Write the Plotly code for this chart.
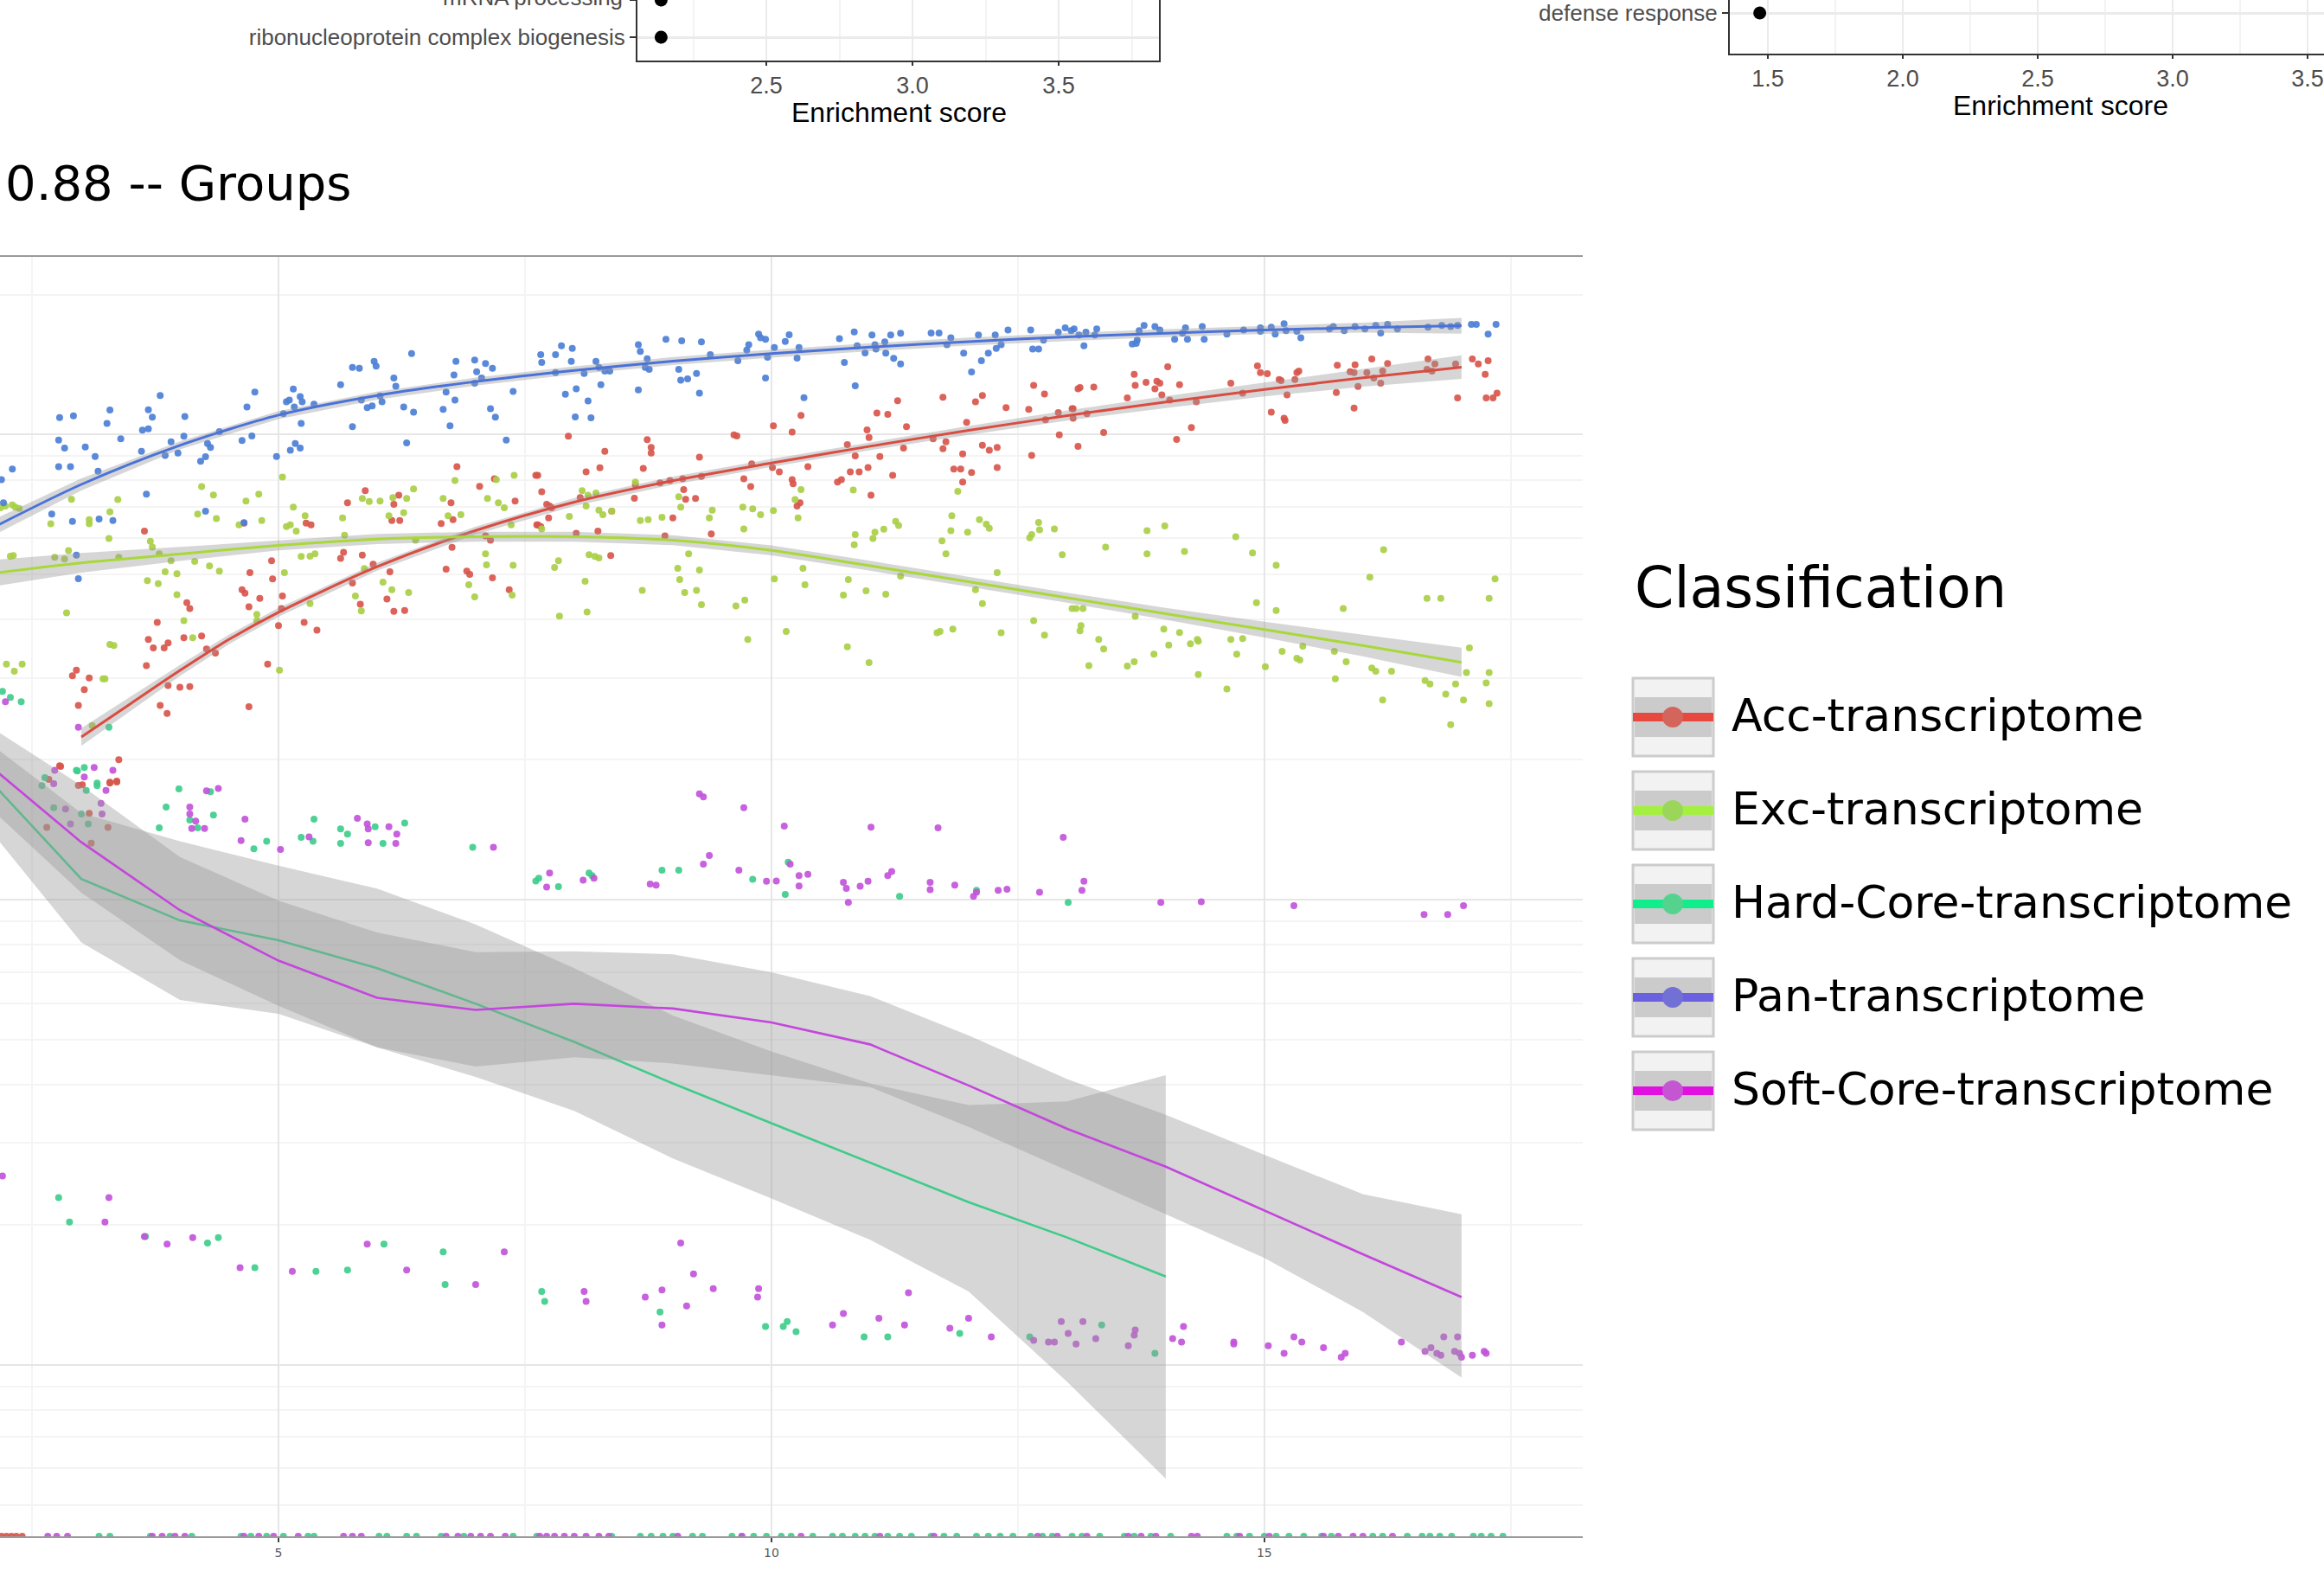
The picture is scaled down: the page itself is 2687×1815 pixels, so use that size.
import plotly.graph_objects as go

W, H = 2687, 1815

# ---------------- data: main panel ----------------
names = ["Acc-transcriptome", "Exc-transcriptome", "Hard-Core-transcriptome",
         "Pan-transcriptome", "Soft-Core-transcriptome"]

pan_pts = [
 (2.19,8000),(2.30,8430),(2.21,7140),(2.77,9730),(2.78,10885),(2.92,10975),(2.83,9360),(2.77,8530),(2.89,8530),
 (3.04,9410),(3.14,8975),(3.17,8345),(3.29,11290),(3.26,10575),(3.40,9800),(3.61,9210),(3.62,10220),(3.68,10290),
 (3.68,11310),(3.72,10900),(3.80,12130),(3.91,9650),(3.85,9020),(3.98,9130),(4.04,9920),(4.05,10940),(4.21,8765),
 (4.26,8960),(4.31,9390),(4.28,9570),(4.40,10150),(4.63,9710),(4.68,11470),(4.73,9935),(4.76,12340),(4.98,8975),
 (5.05,11090),(5.08,11770),(5.11,11870),(5.15,12525),(5.16,11470),(5.22,12070),(5.24,11770),(5.23,10575),(5.17,9570),
 (5.12,9255),(5.22,9360),(5.36,11630),(5.63,12800),(5.75,13940),(5.82,13890),(5.75,10400),(5.84,11870),(5.90,11430),
 (5.95,11530),(5.97,14370),(5.99,14030),(6.03,12110),(6.05,11770),(6.17,13240),(6.19,12710),(6.27,11470),(6.30,9600),
 (6.35,14935),(6.37,11180),(6.67,11330),(6.70,12340),(6.74,10450),(6.78,13430),(6.79,11870),(6.80,14370),(6.99,14460),
 (7.01,13650),(7.10,14220),(7.17,13890),(7.06,13240),(6.99,12900),(7.15,11370),(7.20,10900),(7.31,9730),(7.38,12380),
 (2.70,6750),(2.91,6510),(3.18,6585),(3.32,6540),(3.66,7450),(4.26,6846),(2.95,5510),(2.97,4900),(4.65,6465),
 (7.66,14860),(7.67,14300),(7.81,14860),(7.81,13590),(7.87,15520),(7.98,15320),(7.97,14370),(7.91,12210),(8.02,12550),
 (8.01,10920),(8.10,13540),(8.14,11810),(8.17,10865),(8.22,14370),(8.25,13940),(8.27,12800),(8.31,13700),(8.36,13700),
 (8.65,12480),(8.65,15600),(8.67,15100),(8.74,14560),(8.72,13940),(8.76,13820),(8.93,16030),(9.06,13820),(9.09,15910),
 (9.08,13090),(9.15,13180),(9.24,13540),(9.27,12280),(9.29,15830),(9.38,14860),(9.66,14415),(9.75,15200),(9.77,15600),
 (9.87,16450),(9.89,16150),(9.94,16030),(9.94,13240),(10.03,15390),(9.96,14660),(10.14,15850),(10.18,16400),(10.28,15390),
 (10.26,14610),(10.33,12010),(10.69,16080),(10.74,14300),(10.84,16620),(10.85,12730),(10.87,15520),(10.95,14980),
 (11.02,16370),(11.05,15600),(11.06,15270),(11.15,15830),(11.16,14960),(11.21,16370),(11.24,14585),(11.31,14180),
 (11.31,16510),(11.62,16540),(11.70,16540),(11.82,16150),(11.78,15600),(11.95,14960),(12.03,13640),(12.10,16370),
 (12.13,14415),(12.20,14960),(12.27,16370),(12.28,15320),(12.33,15600),(12.40,16790),(12.63,16790),(12.65,15270),
 (12.71,15270),(12.76,15960),(12.91,16600),(12.98,16960),(13.04,16730),
 (13.07,16880),(13.12,16370),(13.19,16600),(13.30,16880),(13.28,16370),(13.17,15520),(13.66,15650),(13.70,15700),
 (13.71,15960),(13.73,16730),(13.78,17160),(13.89,17080),(13.94,16790),(14.09,16030),(14.20,16960),(14.22,16030),
 (14.17,16510),(14.37,17080),(14.39,16030),(14.62,16450),(14.79,16790),(14.96,16960),(14.96,16680),(15.07,17020),
 (15.11,16450),(15.20,17310),(15.22,16730),(15.33,16680),(15.37,16150),(15.66,16880),(15.70,17080),(15.81,16730),
 (15.92,17080),(16.02,16880),(16.13,17160),(16.18,16540),(16.25,17250),(16.35,16880),(16.66,17020),(16.80,17160),
 (16.89,17080),(16.96,17160),(17.10,17250),(17.15,17250),(17.27,16450),(17.35,17250),
]

acc_pts = [
 (3.64,6206),(3.77,3950),(3.68,3630),(3.73,3479),(3.84,3479),(3.88,3568),(3.66,3186),(3.80,2619),(3.87,2515),
 (3.88,2888),(4.00,2864),(4.10,2874),(4.07,4350),(4.10,4227),(4.04,3660),(4.22,3690),(4.27,3461),(4.36,3392),
 (4.65,6450),(4.71,5048),(4.63,4640),(4.66,4560),(4.70,4263),(4.81,4448),(4.93,5357),(4.94,4897),(5.04,4497),
 (5.03,4227),(5.00,3884),(4.89,3213),(4.70,2601),(5.26,3950),(5.39,3800),(5.28,6450),(5.33,6397),(5.70,7140),
 (5.88,7577),(5.66,5588),(5.63,5420),(5.85,5510),(5.75,4800),(5.83,4320),(5.96,5267),(6.13,5074),(6.10,4432),
 (6.17,4170),(6.28,4190),(6.15,6540),(6.23,6540),(6.17,7081),(6.22,7410),(6.70,5135),(6.65,6440),(6.75,7140),
 (6.77,6565),(6.76,5723),(6.81,8530),(6.91,5090),(6.94,5006),(7.04,7745),(7.10,6060),(7.15,5930),(7.17,4921),
 (7.34,4640),(7.40,7200),(7.61,8175),(7.62,6397),(7.19,8040),
 (2.95,3116),(2.91,3030),(3.08,3000),(3.03,2830),(2.97,2619),(2.78,1942),(3.38,2000),(3.29,1783),(3.36,1792),(3.01,1768),
 (2.79,1936),(2.97,1762),(3.29,1791),(3.36,1800),(3.10,1324),(3.27,1432),(3.08,1535),(2.65,1432),(2.67,1815),
 (7.63,8175),(7.67,7540),(7.72,7081),(7.75,7020),(7.77,6960),(7.74,6618),(7.63,6397),(7.66,6345),(7.94,9920),
 (8.02,6134),(8.06,7325),(8.12,8316),(8.26,8490),(8.31,9210),(8.24,6206),(8.37,5495),(8.38,6846),(8.62,7800),
 (8.61,7300),(8.70,8460),(8.74,9750),(8.78,9390),(8.78,9130),(8.87,7878),(8.92,6060),(8.97,7972),(9.00,6618),
 (9.10,8040),(9.11,7615),(9.13,7260),(9.23,7290),(9.27,8945),(9.29,8135),(9.39,6114),(9.62,9985),(9.65,9935),
 (9.72,8040),(9.79,7733),(9.80,8650),(10.02,10450),(10.01,8500),(10.08,8316),(10.21,10130),(10.21,8000),(10.22,7838),
 (10.26,7020),(10.29,7140),(10.30,10995),(10.37,8530),(10.67,7905),(10.71,8000),(10.77,9520),(10.80,8316),(10.85,9005),
 (10.89,8316),(10.97,10240),(10.99,9855),(10.98,8500),(11.01,7410),(11.07,11130),(11.10,8975),(11.18,11055),
 (11.23,8175),(11.28,11830),(11.34,9360),(11.37,10400),(11.64,9800),(11.74,12030),(11.74,9330),(11.77,9650),
 (11.85,8430),(11.92,8430),(11.94,9085),(11.94,7905),(11.98,10630),(12.03,8290),(12.07,11770),(12.14,12130),
 (12.14,9485),(12.21,9255),(12.29,9390),(12.29,8500),(12.38,11430),(12.61,11330),(12.64,9020),(12.66,12760),
 (12.77,12230),(12.78,10760),(12.91,11150),(12.92,9985),(13.05,11370),
 (13.06,11370),(13.11,12550),(13.13,12630),(13.06,10850),(13.20,11090),(13.27,12650),(13.37,10100),(13.11,9440),
 (13.61,11990),(13.68,13470),(13.69,12760),(13.80,12950),(13.89,12550),(13.91,13020),(13.96,12170),(13.94,12900),
 (14.04,11870),(14.02,13990),(14.11,9770),(14.14,12800),(14.26,10360),(14.31,11770),(14.66,12900),(14.78,12280),
 (14.93,14050),(14.96,13590),(15.03,13520),(15.07,11180),(15.15,13130),(15.17,13060),(15.20,10850),(15.21,10725),
 (15.23,12170),(15.31,13130),(15.33,13590),(15.35,13700),(15.73,12320),(15.74,14100),(15.91,11410),(15.87,13650),
 (15.91,13590),(15.92,14130),(15.95,12690),(16.04,13590),(16.09,14540),(16.11,13240),(16.18,12900),(16.20,13700),
 (16.25,14220),(16.66,14540),(16.65,13820),(16.70,13700),(16.73,14180),(16.94,14180),(16.96,11990),(17.11,14540),
 (17.17,14180),(17.24,13470),(17.25,11990),(17.27,14415),(17.32,11990),(17.36,12280),
]

exc_pts = [
 (2.18,6960),(2.23,7020),(2.30,7057),(2.33,6985),(2.37,6937),(2.31,5495),(2.28,5477),(2.69,6430),(2.73,5450),
 (2.83,5402),(2.87,5635),(2.90,7260),(2.85,4137),(3.08,6565),(3.08,6430),(3.28,5979),(3.29,6822),(3.37,7250),
 (3.38,5450),(3.29,3540),(3.33,3520),(3.22,2987),(3.24,2987),(2.24,3213),(2.32,3100),(2.40,3213),(3.11,2370),
 (3.67,4855),(3.70,5900),(3.72,5733),(3.79,5541),(3.85,5074),(3.78,4780),(3.91,5357),(3.97,5023),(3.97,4530),
 (4.04,3984),(4.13,3660),(4.15,5340),(4.18,6750),(4.22,7733),(4.34,7420),(4.37,6600),(4.30,5222),(4.40,5090),
 (4.67,7200),(4.60,6397),(4.80,7450),(4.83,6540),(4.78,4110),(5.01,3116),(5.04,8108),(5.15,6985),(5.08,6345),
 (5.12,6397),(5.18,6206),(5.27,6690),(5.06,5048),(5.23,5470),(5.32,5477),(5.37,5541),(5.65,6618),(5.67,6080),
 (5.85,7290),(5.92,7180),(6.03,7200),(5.87,5152),(5.78,4497),(5.84,4177),(6.06,4820),(6.15,4640),(6.32,4575),
 (6.16,7325),(6.30,7290),(6.27,6790),(6.12,6690),(6.37,7640),(6.39,5930),(6.67,7290),(6.72,6690),(6.79,7972),
 (6.85,6725),(7.10,5541),(7.11,5248),(7.12,7290),(7.21,8000),(7.23,7140),(7.29,6960),(7.36,6397),(7.39,8175),
 (7.38,5240),(7.37,4520),(6.93,4755),(6.99,4480),(5.32,4335),(4.78,3984),
 (7.67,6270),(7.80,5180),(7.84,5357),(7.85,4075),(7.95,6670),(8.08,7577),(8.14,7410),(8.22,7490),(8.12,7020),
 (8.25,6880),(8.29,6725),(8.11,4838),(8.13,4155),(8.15,5520),(8.21,5470),(8.25,5430),(8.38,6846),(8.62,7905),
 (8.67,6540),(8.75,6565),(8.69,4625),(8.89,6645),(9.06,7350),(9.08,6985),(9.05,5160),(9.07,4880),(9.12,4575),
 (9.16,5541),(9.24,4625),(9.27,5117),(9.29,4310),(9.37,6618),(9.40,6880),(9.64,4285),(9.73,4410),(9.71,6985),
 (9.72,6270),(9.76,3630),(9.81,6925),(9.89,6725),(10.02,6866),(10.03,4897),(10.15,3775),(10.24,7250),(10.27,6618),
 (10.30,7615),(10.32,5160),(10.34,4755),(10.73,4520),(10.78,4880),(10.77,3497),(10.83,7603),(10.85,6100),(10.84,5800),
 (10.96,4618),(10.99,3236),(11.03,5979),(11.05,6170),(11.14,6260),(11.16,4540),(11.26,6510),(11.29,6375),(11.31,4965),
 (11.68,3750),(11.71,3775),(11.73,5910),(11.77,5541),(11.82,6215),(11.83,6690),(11.84,3820),(11.89,7550),(11.99,6170),
 (12.07,4640),(12.11,6565),(12.14,4335),(12.18,6420),(12.21,6290),(12.29,5048),(12.33,3750),(12.62,6000),(12.64,6100),
 (12.71,6476),(12.72,6240),(12.66,3984),(12.77,3705),(12.87,6270),(12.95,5520),(13.05,4227),
 (13.09,4227),(13.16,4227),(13.14,3884),(13.13,3788),(13.32,3630),(13.37,3461),(13.22,3186),(13.39,5733),(13.61,3180),
 (13.68,3251),(13.69,4068),(13.81,6215),(13.81,5541),(13.88,3375),(13.99,6365),(13.98,3820),(14.03,3527),(14.14,3756),
 (14.19,5607),(14.25,3550),(14.32,3630),(14.33,3599),(14.33,3050),(14.62,2840),(14.66,3630),(14.71,6030),(14.72,3375),
 (14.78,3642),(14.88,5570),(14.92,4350),(15.01,3170),(15.12,5240),(15.12,4190),(15.18,3421),(15.33,3305),(15.36,3278),
 (15.39,3508),(15.71,3421),(15.72,2987),(15.80,4227),(15.83,3251),(16.07,4938),(16.09,3150),(16.13,3100),(16.21,5655),
 (16.20,2690),(16.29,3100),(16.63,2960),(16.68,2910),(16.65,4448),(16.79,4448),(16.84,2767),(16.89,2380),(16.94,2910),
 (17.02,2690),(17.05,3080),(17.08,3479),(17.25,2925),(17.28,4448),(17.28,3080),(17.28,2640),(17.34,4897),
]

hard_pts = [
 (2.63,1830),(2.60,1759),(2.95,1898),(3.03,1925),(3.05,1718),(3.16,1759),(3.00,1530),(3.07,1456),(2.72,1577),
 (3.99,1732),(3.86,1583),(3.79,1428),(4.10,1485),(4.18,1428),(4.31,1708),(4.34,1521),(4.75,1287),(4.88,1336),
 (5.23,1363),(5.36,1491),(5.35,1336),(5.63,1420),(5.63,1323),(5.70,1385),(5.98,1436),(6.06,1323),(6.28,1462),
 (6.97,1297),(7.64,1113),(7.61,1098),(7.84,1067),(8.15,1142),(8.18,1127),(8.89,1158),(9.06,1158),(9.81,1107),
 (10.14,1027),(10.17,1205),(2.96,1892),(3.16,1783),(2.20,2805),(2.28,2722),(2.39,2665),(3.28,2350),
 (11.30,1017),(12.08,1048),(13.01,987),
 (2.77,229),(2.88,203),(3.65,189),(4.28,183),(4.39,188),(4.76,162),(5.38,159),(5.70,160),(6.07,182),(6.67,175),
 (6.69,149),(7.67,144),(7.70,137),(8.87,130),(9.94,121),(10.12,121),(10.16,124),(10.25,118),(10.94,115),(11.18,115),
 (11.91,117),(12.62,115),(13.35,122),(13.89,106),
]

soft_pts = [
 (2.73,1898),(2.72,1777),(3.13,1925),(3.03,1837),(3.32,1898),(3.25,1718),(3.20,1612),(3.21,1530),(2.84,1567),
 (2.89,1456),(4.10,1583),(4.10,1530),(4.16,1476),(4.12,1423),(4.25,1423),(4.27,1715),(4.39,1735),(4.66,1491),
 (4.62,1341),(5.02,1284),(5.31,1366),(5.80,1497),(5.90,1456),(5.91,1420),(5.91,1326),(6.12,1436),(6.20,1385),
 (6.19,1323),(7.18,1297),(7.75,1142),(7.72,1065),(8.09,1102),(8.20,1113),(8.77,1081),(8.83,1075),(9.27,1690),
 (9.31,1664),(9.72,1577),(10.13,1441),(9.37,1246),(9.31,1193),(9.67,1158),(9.95,1096),(10.05,1098),(10.19,1193),
 (10.28,1127),(10.28,1071),(2.23,2665),(2.97,2350),
 (10.37,1135),(10.73,1091),(10.76,1058),(10.78,987),(10.90,1070),(10.98,1096),(11.01,1433),(11.18,1127),(11.22,1151),
 (11.61,1091),(11.61,1052),(11.69,1428),(11.86,1075),(12.05,1017),(12.08,1038),(12.30,1048),(12.39,1054),(12.72,1038),
 (12.96,1363),(13.15,1048),(13.17,1096),(13.95,987),(14.36,991),(15.30,972),(16.62,930),(16.86,930),(17.02,972),
 (2.20,255),(3.28,229),(3.24,203),(3.64,189),(3.87,182),(4.13,188),(4.61,162),(5.14,159),(5.90,182),(6.30,160),
 (7.00,149),(7.29,175),(8.12,137),(8.10,144),(8.72,140),(8.89,145),(8.89,122),(9.08,183),(9.21,157),(9.14,134),
 (9.41,146),(9.87,146),(9.86,140),
 (10.62,122),(10.73,129),(11.09,126),(11.35,122),(11.39,143),(11.81,120),(12.00,126),(12.23,115),(12.66,113),
 (12.81,112),(12.87,112),(12.94,124),(13.01,117),(13.09,111),(13.16,124),(13.29,114),(13.62,110),(13.68,116),
 (13.69,119),(14.07,114),(14.16,112),(14.18,121),(14.69,112),(14.69,111),(15.04,110),(15.20,106),(15.30,115),
 (15.38,112),(15.60,109),(15.78,104),(15.82,106),(16.39,112),(16.63,107),(16.69,109),(16.75,106),(16.79,105),
 (16.82,115),(16.93,107),(16.96,115),(16.98,106),(17.00,104),(17.11,105),(17.23,107),(17.25,106),
]

# samples with zero transcripts (drawn on the lower edge of the log axis)
acc_zero_x = [2.19, 2.24, 2.29, 2.34, 2.40]
soft_zero_x = [2.66, 2.75, 2.86, 3.72, 3.82, 3.95, 4.05, 4.65, 4.80, 4.95, 5.20, 5.66, 5.75, 5.84, 6.70, 6.82,
               6.95, 7.05, 7.15, 7.30, 7.65, 7.72, 7.80, 7.90, 8.00, 8.12, 8.25, 8.35, 9.05, 9.70, 10.30, 11.10,
               11.65, 12.70, 12.90, 13.20, 13.62, 13.75, 13.90, 14.26, 14.32, 14.75, 15.05, 15.60, 15.75, 15.90,
               16.00, 16.30]
hard_zero_x = [3.18, 3.29, 3.70, 3.90, 4.12, 4.62, 4.72, 4.88, 5.05, 5.30, 5.36, 6.02, 6.10, 6.30, 6.40, 6.65,
               6.88, 7.38, 7.62, 8.38, 8.67, 8.78, 8.90, 9.00, 9.20, 9.30, 9.60, 9.70, 9.82, 9.95, 10.10, 10.20,
               10.42, 10.62, 10.72, 10.85, 10.95, 11.05, 11.18, 11.30, 11.42, 11.62, 11.75, 11.88, 12.08, 12.20,
               12.32, 12.45, 12.63, 12.75, 12.85, 13.05, 13.15, 13.33, 13.58, 13.68, 13.85, 14.05, 14.62, 14.72,
               14.85, 15.00, 15.12, 15.25, 15.40, 15.58, 15.68, 16.10, 16.20, 16.45, 16.60, 16.68, 16.78, 16.90,
               17.12, 17.20, 17.30, 17.42]

# fitted curves with confidence bands
pan_fx = [2, 3, 4, 5, 6, 7, 8, 9, 10, 11, 12, 13, 14, 15, 16, 17]
pan_fit = [6152, 7816, 9484, 11015, 12134, 13002, 13740, 14388, 14928, 15417, 15849, 16218, 16520, 16788, 16982, 17140]
pan_lo = [5915, 7588, 9298, 10799, 11896, 12747, 13471, 14106, 14635, 15115, 15538, 15900, 16196, 16459, 16568, 16481]
pan_hi = [6398, 8050, 9674, 11235, 12377, 13262, 14015, 14676, 15227, 15725, 16166, 16542, 16850, 17124, 17407, 17826]

acc_fx = [3, 3.5, 4, 4.5, 5, 6, 7, 8, 9, 10, 11, 12, 13, 14, 15, 16, 17]
acc_fit = [2239, 2640, 3112, 3631, 4150, 5200, 6223, 7161, 7962, 8690, 9441, 10210, 10990, 11749, 12503, 13243, 13964]
acc_lo = [2143, 2551, 3027, 3546, 4061, 5098, 6101, 7021, 7806, 8520, 9256, 9990, 10722, 11407, 12080, 12673, 13174]
acc_hi = [2340, 2732, 3199, 3718, 4241, 5304, 6347, 7304, 8121, 8864, 9630, 10435, 11265, 12101, 12941, 13839, 14802]

exc_fx = [2, 3, 4, 5, 6, 7, 8, 9, 10, 11, 12, 13, 14, 15, 16, 17]
exc_fit = [5006, 5300, 5540, 5780, 5965, 6035, 6035, 5930, 5640, 5225, 4830, 4460, 4120, 3810, 3520, 3240]
exc_lo = [4679, 5048, 5353, 5639, 5820, 5888, 5888, 5785, 5502, 5098, 4712, 4351, 4000, 3663, 3336, 3014]
exc_hi = [5356, 5565, 5734, 5925, 6114, 6186, 6186, 6078, 5781, 5356, 4951, 4572, 4244, 3962, 3714, 3483]

hard_fx = [2, 3, 4, 5, 6, 7, 8, 9, 10, 11, 12, 13, 14]
hard_fit = [1875, 1109, 903, 819, 713, 598, 495, 403, 331, 272, 224, 188, 155]
hard_lo = [1476, 810, 609, 569, 482, 416, 352, 278, 228, 186, 144, 92, 57]
hard_hi = [2229, 1536, 1337, 1184, 1057, 885, 713, 564, 472, 403, 362, 369, 420]

soft_fx = [2, 3, 4, 5, 6, 7, 8, 9, 10, 11, 12, 13, 14, 15, 16, 17]
soft_fit = [2000, 1330, 950, 740, 616, 580, 598, 584, 545, 489, 399, 322, 267, 215, 173, 140]
soft_lo = [1630, 1036, 742, 592, 482, 438, 459, 445, 420, 396, 325, 262, 211, 170, 130, 94]
soft_hi = [2412, 1762, 1236, 996, 851, 772, 775, 764, 699, 621, 511, 412, 345, 283, 233, 211]

x_ticks = [5, 10, 15]

# ---------------- data: enrichment panels ----------------
go_left_terms = ["ribonucleoprotein complex biogenesis", "mRNA processing"]
go_left_scores = [2.14, 2.14]
go_left_ticks = [2.5, 3.0, 3.5]
go_right_terms = ["defense response"]
go_right_scores = [1.47]
go_right_ticks = [1.5, 2.0, 2.5, 3.0, 3.5]

title_text = "0.88 -- Groups"
legend_title = "Classification"

# ---------------- styling ----------------
point_col = {"Acc-transcriptome": "#d8564c", "Exc-transcriptome": "#a9cf46",
             "Hard-Core-transcriptome": "#3fcd8c", "Pan-transcriptome": "#4c7fd6",
             "Soft-Core-transcriptome": "#c254da"}
line_col = {"Acc-transcriptome": "#d94c42", "Exc-transcriptome": "#a8d83a",
            "Hard-Core-transcriptome": "#3fcb8a", "Pan-transcriptome": "#4a72d8",
            "Soft-Core-transcriptome": "#c446dc"}
key_line = {"Acc-transcriptome": "#e8493f", "Exc-transcriptome": "#a4f040",
            "Hard-Core-transcriptome": "#10ee8c", "Pan-transcriptome": "#6a60e0",
            "Soft-Core-transcriptome": "#e010e0"}
key_dot = {"Acc-transcriptome": "#d4655c", "Exc-transcriptome": "#9bd65a",
           "Hard-Core-transcriptome": "#55d38e", "Pan-transcriptome": "#7270d4",
           "Soft-Core-transcriptome": "#c556d2"}
BAND = "rgba(153,153,153,0.40)"

Y_RANGE = [1.632, 4.382]
ZERO_Y = 10 ** Y_RANGE[0]

def px(x):
    return x / W

def py(y):
    return 1 - y / H

fig = go.Figure()

series = {
    "Acc-transcriptome": (acc_pts, acc_zero_x, acc_fx, acc_fit, acc_lo, acc_hi, "spline"),
    "Exc-transcriptome": (exc_pts, [], exc_fx, exc_fit, exc_lo, exc_hi, "spline"),
    "Hard-Core-transcriptome": (hard_pts, hard_zero_x, hard_fx, hard_fit, hard_lo, hard_hi, "linear"),
    "Pan-transcriptome": (pan_pts, [], pan_fx, pan_fit, pan_lo, pan_hi, "spline"),
    "Soft-Core-transcriptome": (soft_pts, soft_zero_x, soft_fx, soft_fit, soft_lo, soft_hi, "linear"),
}

# points layer
for n in names:
    pts, zx = series[n][0], series[n][1]
    xs = [p[0] for p in pts] + list(zx)
    ys = [p[1] for p in pts] + [ZERO_Y] * len(zx)
    fig.add_trace(go.Scatter(x=xs, y=ys, mode="markers", name=n,
                             marker=dict(size=8, color=point_col[n], opacity=0.92, line=dict(width=0)),
                             hoverinfo="skip", xaxis="x", yaxis="y"))

# smooth layer: band then line per group
for n in names:
    _, _, fx, fit, lo, hi, shape = series[n]
    fig.add_trace(go.Scatter(x=list(fx) + list(fx)[::-1], y=list(hi) + list(lo)[::-1],
                             mode="lines", fill="toself", fillcolor=BAND, line=dict(width=0),
                             hoverinfo="skip", xaxis="x", yaxis="y"))
    fig.add_trace(go.Scatter(x=fx, y=fit, mode="lines",
                             line=dict(color=line_col[n], width=3 if shape == "spline" else 2.6,
                                       shape=shape, smoothing=0.8),
                             hoverinfo="skip", xaxis="x", yaxis="y"))

# enrichment dots
fig.add_trace(go.Scatter(x=go_left_scores, y=list(range(len(go_left_terms))), mode="markers",
                         marker=dict(size=15, color="black"), cliponaxis=False,
                         xaxis="x2", yaxis="y2", hoverinfo="skip"))
fig.add_trace(go.Scatter(x=go_right_scores, y=list(range(len(go_right_terms))), mode="markers",
                         marker=dict(size=15, color="black"), cliponaxis=False,
                         xaxis="x3", yaxis="y3", hoverinfo="skip"))

label_font = dict(family="Liberation Sans, Arial, sans-serif", size=26, color="#4d4d4d")
tick_font = dict(family="Liberation Sans, Arial, sans-serif", size=27, color="#4d4d4d")

layout = dict(
    width=W, height=H, margin=dict(l=0, r=0, t=0, b=0),
    paper_bgcolor="white", plot_bgcolor="white", showlegend=False,
    font=dict(family="DejaVu Sans"),
    xaxis=dict(domain=[0, px(1830)], range=[2.175, 18.23], tickvals=x_ticks,
               ticks="outside", ticklen=5, tickwidth=2, tickcolor="#444",
               tickfont=dict(size=14, color="#5a5a5a"),
               showgrid=True, gridcolor="#e6e6e6", gridwidth=2,
               minor=dict(tickvals=[2.5, 7.5, 12.5, 17.5], showgrid=True, gridcolor="#f4f4f4", gridwidth=2),
               showline=True, linecolor="#9a9a9a", linewidth=2, mirror=True, zeroline=False,
               anchor="y"),
    yaxis=dict(domain=[py(1776), py(297)], type="log", range=Y_RANGE,
               tickvals=[100, 1000, 10000], showticklabels=False, ticks="",
               showgrid=True, gridcolor="#e6e6e6", gridwidth=2,
               minor=dict(tickvals=[50, 60, 70, 80, 90, 200, 300, 400, 500, 600, 700, 800, 900,
                                    2000, 3000, 4000, 5000, 6000, 7000, 8000, 9000, 20000],
                          showgrid=True, gridcolor="#f4f4f4", gridwidth=2),
               showline=False, zeroline=False, anchor="x"),
    xaxis2=dict(domain=[px(737), px(1340)], range=[2.059, 3.843], tickvals=go_left_ticks,
                ticktext=[f"{v:.1f}" for v in go_left_ticks],
                ticks="outside", ticklen=4, tickwidth=2, tickcolor="#333", tickfont=tick_font,
                showgrid=True, gridcolor="#ebebeb", gridwidth=2,
                minor=dict(tickvals=[2.25, 2.75, 3.25, 3.75], showgrid=True, gridcolor="#f3f3f3", gridwidth=2),
                showline=True, linecolor="#333", linewidth=2, zeroline=False, anchor="y2"),
    yaxis2=dict(domain=[py(70), 1], range=[-0.628, 1.0], tickvals=[0, 1],
                ticktext=[go_left_terms[0], ""], ticks="outside", ticklen=7, tickwidth=2, tickcolor="#333",
                tickfont=label_font, showgrid=True, gridcolor="#ebebeb", gridwidth=3,
                showline=True, linecolor="#333", linewidth=2, mirror=True, zeroline=False, anchor="x2"),
    xaxis3=dict(domain=[px(2000), 1], range=[1.359, 3.561], tickvals=go_right_ticks,
                ticktext=[f"{v:.1f}" for v in go_right_ticks],
                ticks="outside", ticklen=4, tickwidth=2, tickcolor="#333", tickfont=tick_font,
                showgrid=True, gridcolor="#ebebeb", gridwidth=2,
                minor=dict(tickvals=[1.75, 2.25, 2.75, 3.25], showgrid=True, gridcolor="#f3f3f3", gridwidth=2),
                showline=True, linecolor="#333", linewidth=2, zeroline=False, anchor="y3"),
    yaxis3=dict(domain=[py(62), 1], range=[-1.093, 0.349], tickvals=list(range(len(go_right_terms))),
                ticktext=go_right_terms, ticks="outside", ticklen=7, tickwidth=2, tickcolor="#333",
                tickfont=label_font, showgrid=True, gridcolor="#ebebeb", gridwidth=3,
                showline=True, linecolor="#333", linewidth=2, zeroline=False, anchor="x3"),
)
fig.update_layout(**layout)

annotations = [
    dict(text=title_text, x=px(4), y=py(211), xref="paper", yref="paper", xanchor="left", yanchor="middle",
         showarrow=False, font=dict(family="DejaVu Sans", size=56, color="black")),
    dict(text="Enrichment score", x=px(1039), y=py(130), xref="paper", yref="paper", xanchor="center",
         yanchor="middle", showarrow=False, font=dict(family="Liberation Sans, Arial", size=32, color="black")),
    dict(text="Enrichment score", x=px(2382), y=py(122), xref="paper", yref="paper", xanchor="center",
         yanchor="middle", showarrow=False, font=dict(family="Liberation Sans, Arial", size=32, color="black")),
    dict(text=legend_title, x=px(1888), y=py(679), xref="paper", yref="paper", xanchor="left",
         yanchor="middle", showarrow=False, font=dict(family="DejaVu Sans", size=65, color="black")),
    # label of the row that sits on the top edge of the left enrichment panel (cut by the page edge)
    dict(text=go_left_terms[1], x=px(722), y=1 + 3 / H, xref="paper", yref="paper", xanchor="right",
         yanchor="middle", showarrow=False, font=label_font),
]

shapes = []
for i, n in enumerate(names):
    cy = 829 + 108 * i
    x0, x1 = 1888, 1981
    shapes.append(dict(type="rect", xref="paper", yref="paper", x0=px(x0), x1=px(x1),
                       y0=py(cy + 45), y1=py(cy - 45), fillcolor="#f2f2f2",
                       line=dict(color="#cccccc", width=3), layer="above"))
    shapes.append(dict(type="rect", xref="paper", yref="paper", x0=px(x0 + 2), x1=px(x1 - 2),
                       y0=py(cy + 23), y1=py(cy - 23), fillcolor="#cbcbcb", line=dict(width=0), layer="above"))
    shapes.append(dict(type="line", xref="paper", yref="paper", x0=px(x0), x1=px(x1),
                       y0=py(cy), y1=py(cy), line=dict(color=key_line[n], width=10), layer="above"))
    shapes.append(dict(type="circle", xref="paper", yref="paper", x0=px(1934 - 12), x1=px(1934 + 12),
                       y0=py(cy + 12), y1=py(cy - 12), fillcolor=key_dot[n], line=dict(width=0), layer="above"))
    annotations.append(dict(text=n, x=px(2000), y=py(cy - 2), xref="paper", yref="paper", xanchor="left",
                            yanchor="middle", showarrow=False,
                            font=dict(family="DejaVu Sans", size=52, color="black")))

fig.update_layout(annotations=annotations, shapes=shapes)
fig.write_html("out.html")
